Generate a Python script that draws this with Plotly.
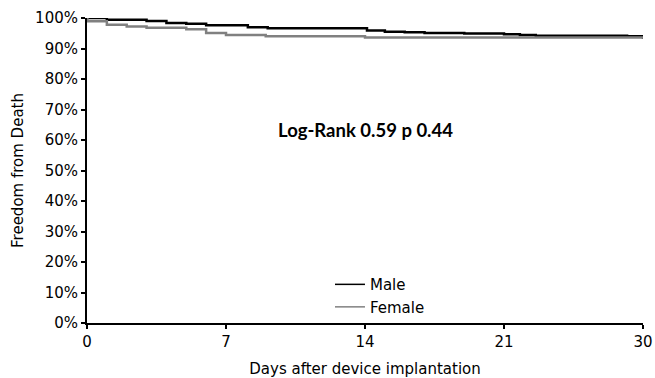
import plotly.graph_objects as go

# x positions in axis units (ticks 0,7,14,21 and last labelled "30")
male_t = [0, 1.0, 3.0, 4.0, 5.0, 6.0, 8.1, 9.1, 14.1, 15.0, 16.0, 17.0, 19.0, 21.0, 21.8, 22.6, 27.2, 28.0]
male_s = [1.000, 0.994, 0.990, 0.984, 0.981, 0.976, 0.970, 0.966, 0.959, 0.955, 0.953, 0.951, 0.949, 0.947, 0.944, 0.942, 0.940, 0.932]
female_t = [0, 0.02, 1.0, 2.0, 3.0, 5.0, 6.0, 7.0, 9.0, 14.0, 28.0]
female_s = [1.000, 0.989, 0.978, 0.972, 0.968, 0.963, 0.951, 0.944, 0.940, 0.936, 0.934]

x_tickvals = [0, 7, 14, 21, 28]
x_ticktext = ["0", "7", "14", "21", "30"]
y_tickvals = [i / 10 for i in range(11)]

fig = go.Figure()
fig.add_trace(go.Scatter(x=male_t, y=male_s, mode="lines", line_shape="hv",
                         name="Male", legendgroup="m", showlegend=False,
                         line=dict(color="black", width=2.5)))
fig.add_trace(go.Scatter(x=female_t, y=female_s, mode="lines", line_shape="hv",
                         name="Female", legendgroup="f", showlegend=False,
                         line=dict(color="#808080", width=2.5)))
# legend entries (thin sample lines as in the reference)
fig.add_trace(go.Scatter(x=[None], y=[None], mode="lines", name="Male",
                         legendgroup="m", line=dict(color="black", width=1.5)))
fig.add_trace(go.Scatter(x=[None], y=[None], mode="lines", name="Female",
                         legendgroup="f", line=dict(color="#808080", width=1.5)))

font_fam = "DejaVu Sans, sans-serif"
fig.update_layout(
    width=655, height=378,
    margin=dict(l=87, r=12, t=18, b=55),
    paper_bgcolor="white", plot_bgcolor="white",
    font=dict(family=font_fam, size=15, color="black"),
    showlegend=True,
    legend=dict(x=0.437, y=0.18, xanchor="left", yanchor="top",
                bgcolor="rgba(0,0,0,0)", font=dict(size=15, family=font_fam),
                tracegroupgap=0, itemwidth=30),
    xaxis=dict(range=[0, 28], tickvals=x_tickvals, ticktext=x_ticktext,
               automargin=False,
               showgrid=False, zeroline=False, showline=True, linecolor="black",
               linewidth=2, ticks="outside", ticklen=4, tickwidth=1.5,
               tickcolor="black", tickfont=dict(size=15),
               title=dict(text="Days after device implantation", standoff=13,
                          font=dict(size=15))),
    yaxis=dict(range=[0, 1], tickvals=y_tickvals, tickformat=".0%",
               automargin=False,
               showgrid=False, zeroline=False, showline=True, linecolor="black",
               linewidth=2, ticks="outside", ticklen=4, tickwidth=1.5,
               tickcolor="black", tickfont=dict(size=15),
               title=dict(text="Freedom from Death", standoff=8,
                          font=dict(size=15))),
    annotations=[dict(text="<b>Log-Rank 0.59 p 0.44</b>", x=0.5, y=0.633,
                      xref="paper", yref="paper", showarrow=False,
                      font=dict(family="Lato, Open Sans, sans-serif", size=18.5))],
)

fig.write_html("out.html", config={"displayModeBar": False},
               post_script="document.body.style.margin='0px';")
